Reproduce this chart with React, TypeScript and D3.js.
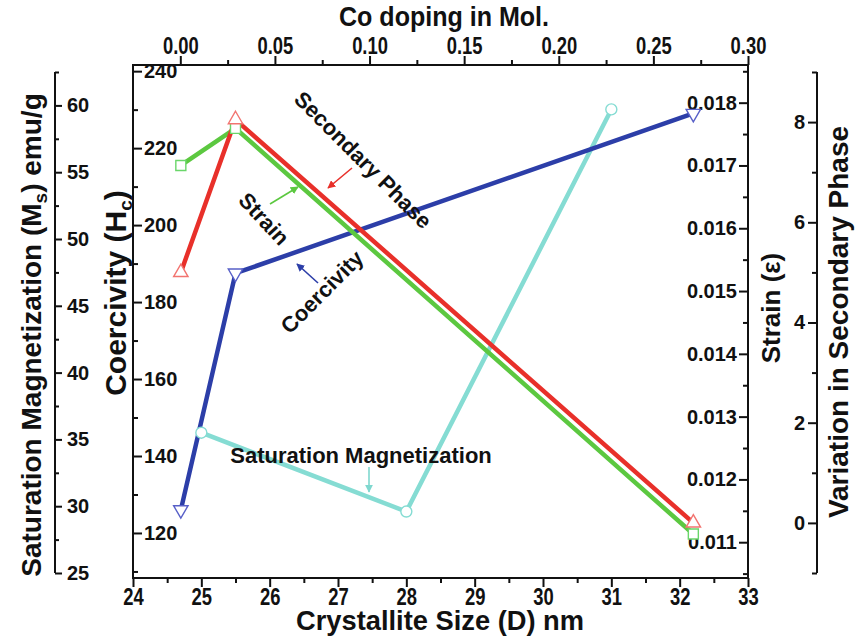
import React, { useEffect, useRef } from 'react';
import * as d3 from 'd3';

const width = 857;
const height = 638;

// crystallite size (nm) for coercivity, strain and secondary phase points
const sizeMain = [24.7, 25.5, 32.2];
// crystallite size (nm) for saturation magnetization points
const sizeMs = [25.0, 28.0, 31.0];

const coercivity = [126, 187.5, 229];
const satMag = [35.5, 29.6, 59.7];
const strain = [0.017, 0.01759, 0.01113];
const secPhase = [5.0, 8.05, 0.0];

const sizeTicks = [24, 25, 26, 27, 28, 29, 30, 31, 32, 33];
const coTicks = [0, 0.05, 0.1, 0.15, 0.2, 0.25, 0.3];
const hcTicks = [120, 140, 160, 180, 200, 220, 240];
const msTicks = [25, 30, 35, 40, 45, 50, 55, 60];
const strainTicks = [0.011, 0.012, 0.013, 0.014, 0.015, 0.016, 0.017, 0.018];
const secTicks = [0, 2, 4, 6, 8];

const sans = "'Liberation Sans', Arial, sans-serif";

const frame = { left: 133, right: 748, top: 65, bottom: 578 };

const App = () => {
  const ref = useRef<SVGSVGElement>(null);

  useEffect(() => {
    const svg = d3.select(ref.current);
    svg.selectAll('*').remove();

    const x = d3.scaleLinear().domain([24, 33]).range([frame.left, frame.right]);
    const xTop = d3.scaleLinear().domain([-0.025, 0.3]).range([frame.left, frame.right]);
    const yHc = d3.scaleLinear().domain([108.3, 241.6]).range([frame.bottom, frame.top]);
    const yStrain = d3.scaleLinear().domain([0.01043, 0.0186]).range([frame.bottom, frame.top]);
    const yMs = d3.scaleLinear().domain([25, 62.5]).range([573, 72]);
    const ySec = d3.scaleLinear().domain([-1, 9]).range([573, 72]);

    const defs = svg.append('defs');
    const arrowColors: Record<string, string> = { red: '#e8302a', green: '#5cc840', blue: '#2c3ea8', cyan: '#7fd8cf' };
    Object.entries(arrowColors).forEach(([k, c]) => {
      defs.append('marker')
        .attr('id', 'arr-' + k)
        .attr('viewBox', '0 0 10 10')
        .attr('refX', 9).attr('refY', 5)
        .attr('markerWidth', 5).attr('markerHeight', 5)
        .attr('orient', 'auto')
        .append('path').attr('d', 'M0,0 L10,5 L0,10 z').attr('fill', c);
    });

    const styleAxis = (g, size, squeeze) => {
      g.selectAll('.domain').remove();
      g.selectAll('line').attr('stroke', '#111').attr('stroke-width', 2);
      const t = g.selectAll('text')
        .attr('font-family', sans)
        .attr('font-weight', 'bold')
        .attr('font-size', size)
        .attr('fill', '#111');
      if (squeeze) t.attr('transform', 'scale(0.8,1)');
    };

    const addAxis = (axis, minor, transform, size, fmt, squeeze = false) => {
      const g = svg.append('g').attr('transform', transform);
      g.call(axis.tickFormat(fmt));
      styleAxis(g, size, squeeze);
      const gm = svg.append('g').attr('transform', transform);
      gm.call(minor.tickFormat(() => ''));
      styleAxis(gm, size, squeeze);
    };

    // bottom axis
    addAxis(
      d3.axisBottom(x).tickValues(sizeTicks).tickSize(9).tickPadding(2),
      d3.axisBottom(x).tickValues(d3.range(24.5, 33, 1)).tickSize(5),
      `translate(0,${frame.bottom})`, 23, d3.format('d'), true);
    // top axis
    addAxis(
      d3.axisTop(xTop).tickValues(coTicks).tickSize(9).tickPadding(2),
      d3.axisTop(xTop).tickValues(d3.range(0.025, 0.3, 0.05)).tickSize(5),
      `translate(0,${frame.top})`, 23, d3.format('.2f'), true);
    // coercivity axis (inside, on left frame)
    addAxis(
      d3.axisRight(yHc).tickValues(hcTicks).tickSize(9).tickPadding(2),
      d3.axisRight(yHc).tickValues(d3.range(110, 241, 20)).tickSize(5),
      `translate(${frame.left},0)`, 20, d3.format('d'));
    // strain axis (inside, on right frame)
    addAxis(
      d3.axisLeft(yStrain).tickValues(strainTicks).tickSize(9).tickPadding(2),
      d3.axisLeft(yStrain).tickValues(d3.range(0.0105, 0.0186, 0.001)).tickSize(5),
      `translate(${frame.right},0)`, 20, d3.format('.3f'));

    // Ms axis (offset left)
    const msX = 55;
    svg.append('line')
      .attr('x1', msX).attr('x2', msX)
      .attr('y1', yMs(62.5)).attr('y2', yMs(25))
      .attr('stroke', '#111').attr('stroke-width', 2);
    addAxis(
      d3.axisRight(yMs).tickValues(msTicks).tickSize(7).tickPadding(5),
      d3.axisRight(yMs).tickValues(d3.range(27.5, 63, 5)).tickSize(4),
      `translate(${msX},0)`, 20, d3.format('d'));

    // secondary phase axis (offset right)
    const secX = 817;
    svg.append('line')
      .attr('x1', secX).attr('x2', secX)
      .attr('y1', ySec(9)).attr('y2', ySec(-1))
      .attr('stroke', '#111').attr('stroke-width', 2);
    addAxis(
      d3.axisLeft(ySec).tickValues(secTicks).tickSize(9).tickPadding(3),
      d3.axisLeft(ySec).tickValues([-1, 1, 3, 5, 7, 9]).tickSize(5),
      `translate(${secX},0)`, 20, d3.format('d'));

    // frame
    svg.append('rect')
      .attr('x', frame.left).attr('y', frame.top)
      .attr('width', frame.right - frame.left)
      .attr('height', frame.bottom - frame.top)
      .attr('fill', 'none').attr('stroke', '#111').attr('stroke-width', 2);

    // series
    const series = [
      { xs: sizeMs, ys: satMag, y: yMs, line: '#85dcd3', mark: '#85dcd3', shape: 'circle' },
      { xs: sizeMain, ys: coercivity, y: yHc, line: '#2c3ea8', mark: '#5860c8', shape: 'down' },
      { xs: sizeMain, ys: strain, y: yStrain, line: '#5cc840', mark: '#6ad66a', shape: 'square' },
      { xs: sizeMain, ys: secPhase, y: ySec, line: '#e8302a', mark: '#f27470', shape: 'up' },
    ];

    series.forEach(s => {
      const pts = s.xs.map((d, i) => [x(d), s.y(s.ys[i])] as [number, number]);
      svg.append('path')
        .attr('d', d3.line()(pts))
        .attr('fill', 'none')
        .attr('stroke', s.line)
        .attr('stroke-width', 4.5)
        .attr('stroke-linejoin', 'round');
    });

    series.forEach(s => {
      const pts = s.xs.map((d, i) => [x(d), s.y(s.ys[i])]);
      pts.forEach(([px, py]) => {
        let sym;
        let rot = 0;
        if (s.shape === 'circle') sym = d3.symbol(d3.symbolCircle, 95);
        else if (s.shape === 'square') sym = d3.symbol(d3.symbolSquare, 100);
        else { sym = d3.symbol(d3.symbolTriangle, 90); if (s.shape === 'down') rot = 180; }
        svg.append('path')
          .attr('d', sym())
          .attr('transform', `translate(${px},${py}) rotate(${rot})`)
          .attr('fill', '#fff')
          .attr('stroke', s.mark)
          .attr('stroke-width', 1.4);
      });
    });

    // annotations
    const note = (label, cx, cy, angle) => {
      svg.append('text')
        .attr('transform', `translate(${cx},${cy}) rotate(${angle})`)
        .attr('text-anchor', 'middle')
        .attr('dominant-baseline', 'central')
        .attr('font-family', sans)
        .attr('font-weight', 'bold')
        .attr('font-size', 22)
        .attr('fill', '#111')
        .text(label);
    };
    note('Secondary Phase', 363, 160, 45);
    note('Strain', 264, 219, 47);
    note('Coercivity', 322, 292, -45);
    note('Saturation Magnetization', 361, 455, 0);

    const arrow = (key, x1, y1, x2, y2) => {
      svg.append('line')
        .attr('x1', x1).attr('y1', y1).attr('x2', x2).attr('y2', y2)
        .attr('stroke', arrowColors[key])
        .attr('stroke-width', 1.6)
        .attr('marker-end', `url(#arr-${key})`);
    };
    arrow('red', 352, 168, 328, 188);
    arrow('green', 270, 204, 298, 187);
    arrow('blue', 318, 283, 297, 264);
    arrow('cyan', 369, 467, 369, 492);

    // axis titles
    const title = (g, size) => g
      .attr('font-family', sans)
      .attr('font-weight', 'bold')
      .attr('font-size', size)
      .attr('fill', '#111')
      .attr('text-anchor', 'middle');

    title(svg.append('text'), 28)
      .attr('x', 440).attr('y', 630)
      .attr('textLength', 288)
      .attr('lengthAdjust', 'spacingAndGlyphs')
      .text('Crystallite Size (D) nm');
    title(svg.append('text'), 28)
      .attr('x', 444).attr('y', 26)
      .attr('textLength', 210)
      .attr('lengthAdjust', 'spacingAndGlyphs')
      .text('Co doping in Mol.');

    const ms = title(svg.append('text'), 28)
      .attr('transform', 'translate(41,335) rotate(-90)');
    ms.append('tspan').text('Saturation Magnetization (M');
    ms.append('tspan').attr('font-size', 19).attr('dy', 6).text('s');
    ms.append('tspan').attr('dy', -6).text(') emu/g');

    const hc = title(svg.append('text'), 30)
      .attr('transform', 'translate(126,293) rotate(-90)');
    hc.append('tspan').text('Coercivity (H');
    hc.append('tspan').attr('font-size', 19).attr('dy', 6).text('c');
    hc.append('tspan').attr('dy', -6).text(')');

    title(svg.append('text'), 26)
      .attr('transform', 'translate(780,308) rotate(-90)')
      .text('Strain (\u03b5)');
    title(svg.append('text'), 28)
      .attr('transform', 'translate(848,322) rotate(-90)')
      .text('Variation in Secondary Phase');
  }, []);

  return (
    <svg
      ref={ref}
      width={width}
      height={height}
      style={{ position: 'absolute', left: 0, top: 0, background: '#fff' }}
    />
  );
};

export default App;
